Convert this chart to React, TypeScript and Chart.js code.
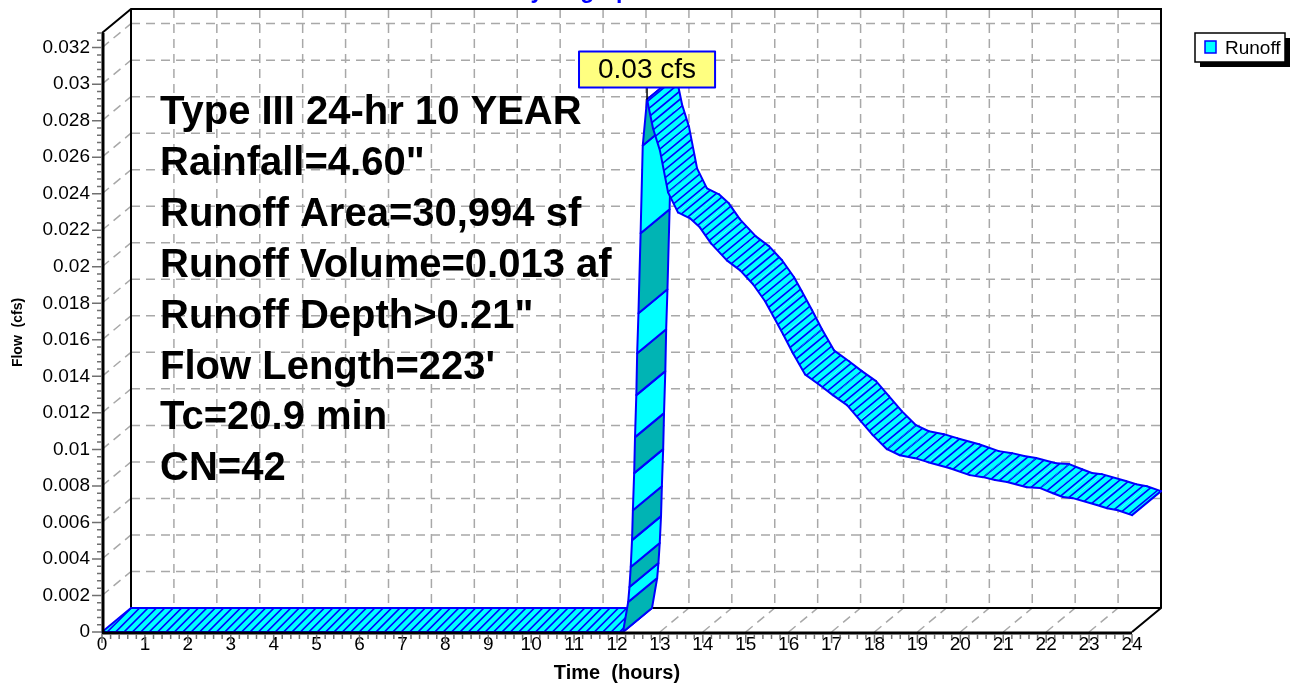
import React, { useEffect, useRef } from 'react';
import { Chart, registerables } from 'chart.js';

Chart.register(...registerables);

const FONT = "'Liberation Sans', Arial, Helvetica, sans-serif";
Chart.defaults.font.family = FONT;
Chart.defaults.color = '#000';

// Runoff hydrograph: time (hours) and flow (cfs)
const hours = [
  0, 12.14, 12.26, 12.29, 12.32, 12.35, 12.37, 12.4, 12.42, 12.45, 12.47, 12.5, 12.55, 12.6, 12.7,
  12.84, 13.0, 13.19, 13.42, 13.7, 13.93, 14.19, 14.56, 14.87, 15.17,
  15.45, 15.63, 15.87, 16.1, 16.38, 16.73, 17.03, 17.36, 17.66, 17.96,
  18.29, 18.59, 18.94, 19.25, 19.76, 20.22, 20.53, 20.81, 21.09, 21.55,
  21.86, 22.16, 22.39, 22.62, 23.18, 23.42, 23.67, 24.0,
];
const runoffCfs = [
  0, 0, 0.00164, 0.00246, 0.00356, 0.00503, 0.00667, 0.0087, 0.01067, 0.01297, 0.01526, 0.01745, 0.02183, 0.02664, 0.02916,
  0.02757, 0.02637, 0.02407, 0.02298, 0.02265, 0.02216, 0.02128, 0.02035, 0.0198, 0.01904,
  0.01811, 0.01734, 0.0163, 0.01526, 0.01411, 0.01351, 0.01297, 0.01242, 0.0116, 0.01078,
  0.01001, 0.00968, 0.00952, 0.0093, 0.00897, 0.00859, 0.00848, 0.00832, 0.00821, 0.00793,
  0.00788, 0.0076, 0.00739, 0.00733, 0.00695, 0.00678, 0.00667, 0.0064,
];

const timeTicks = [0, 1, 2, 3, 4, 5, 6, 7, 8, 9, 10, 11, 12, 13, 14, 15, 16, 17, 18, 19, 20, 21, 22, 23, 24];
const flowTicks = [
  0, 0.002, 0.004, 0.006, 0.008, 0.01, 0.012, 0.014, 0.016, 0.018,
  0.02, 0.022, 0.024, 0.026, 0.028, 0.03, 0.032,
];
const flowMax = 0.0328;

const stormSummary = [
  'Type III 24-hr 10 YEAR',
  'Rainfall=4.60"',
  'Runoff Area=30,994 sf',
  'Runoff Volume=0.013 af',
  'Runoff Depth>0.21"',
  "Flow Length=223'",
  'Tc=20.9 min',
  'CN=42',
];

const chartTitle = 'Hydrograph';
const seriesName = 'Runoff';
const xTitle = 'Time  (hours)';
const yTitle = 'Flow  (cfs)';
const flowUnit = 'cfs';

// depth of the 3D box, in pixels
const DX = 29;
const DY = 24;
const CYAN = '#00FFFF';
const TEAL = '#00B4B4';
const BLUE = '#0000FF';
const GRID = '#A8A8A8';

type P = { x: number; y: number };

// fill a quad with cyan and blue hatch lines running along (ux, uy), spaced `gap` px horizontally
function hatchQuad(ctx: CanvasRenderingContext2D, q: P[], ux: number, uy: number, gap: number) {
  ctx.save();
  ctx.beginPath();
  q.forEach((p, i) => (i ? ctx.lineTo(p.x, p.y) : ctx.moveTo(p.x, p.y)));
  ctx.closePath();
  ctx.fillStyle = CYAN;
  ctx.fill();
  ctx.clip();
  // lines: (-uy) * x + ux * y = c
  const a = -uy;
  const b = ux;
  const step = Math.abs(a) * gap;
  const xs = q.map((p) => p.x);
  const cs = q.map((p) => a * p.x + b * p.y);
  const x0 = Math.min(...xs) - 4;
  const x1 = Math.max(...xs) + 4;
  const c0 = Math.min(...cs);
  const c1 = Math.max(...cs);
  ctx.beginPath();
  for (let c = Math.floor(c0 / step) * step; c <= c1 + step; c += step) {
    ctx.moveTo(x0, (c - a * x0) / b);
    ctx.lineTo(x1, (c - a * x1) / b);
  }
  ctx.strokeStyle = BLUE;
  ctx.lineWidth = 1.6;
  ctx.stroke();
  ctx.restore();
}

const ribbonPlugin = {
  id: 'ribbon3d',
  beforeDatasetsDraw(chart: any) {
    const { ctx, chartArea: a, scales } = chart;
    const x = scales.x;
    const y = scales.y;
    ctx.save();

    // dashed grid on the back wall, floor and left wall
    ctx.setLineDash([9, 6]);
    ctx.strokeStyle = GRID;
    ctx.lineWidth = 1.5;
    ctx.beginPath();
    x.ticks.forEach((t: any) => {
      if (t.value <= x.min || t.value >= x.max) return;
      const px = x.getPixelForValue(t.value);
      ctx.moveTo(px + DX, a.top - DY);
      ctx.lineTo(px + DX, a.bottom - DY);
      ctx.moveTo(px, a.bottom);
      ctx.lineTo(px + DX, a.bottom - DY);
    });
    y.ticks.forEach((t: any) => {
      if (t.value <= y.min) return;
      const py = y.getPixelForValue(t.value);
      ctx.moveTo(a.left + DX, py - DY);
      ctx.lineTo(a.right + DX, py - DY);
      ctx.moveTo(a.left, py);
      ctx.lineTo(a.left + DX, py - DY);
    });
    ctx.stroke();

    // box edges
    ctx.setLineDash([]);
    ctx.strokeStyle = '#000';
    ctx.lineWidth = 2;
    ctx.beginPath();
    ctx.moveTo(a.left, a.top);
    ctx.lineTo(a.left + DX, a.top - DY);
    ctx.lineTo(a.right + DX, a.top - DY);
    ctx.lineTo(a.right + DX, a.bottom - DY);
    ctx.lineTo(a.right, a.bottom);
    ctx.moveTo(a.left + DX, a.top - DY);
    ctx.lineTo(a.left + DX, a.bottom - DY);
    ctx.lineTo(a.right + DX, a.bottom - DY);
    ctx.stroke();

    // storm summary
    ctx.fillStyle = '#000';
    ctx.font = `bold 40px ${FONT}`;
    ctx.textAlign = 'left';
    ctx.textBaseline = 'alphabetic';
    stormSummary.forEach((s, i) => ctx.fillText(s, 160, 124 + i * 50.9));
    ctx.restore();
  },

  afterDatasetsDraw(chart: any) {
    const { ctx, chartArea: a, scales } = chart;
    const x = scales.x;
    const y = scales.y;
    const values: number[] = chart.data.datasets[0].data.map((d: any) => d.y);
    const pts: P[] = chart.getDatasetMeta(0).data.map((e: any) => ({ x: e.x, y: e.y }));
    const n = pts.length;
    const back = (p: P): P => ({ x: p.x + DX, y: p.y - DY });

    const rising = values.slice(0, -1).map((v, i) => values[i + 1] > v);
    const dark: boolean[] = new Array(n - 1).fill(false);
    let run = 0;
    for (let i = n - 2; i >= 0; i--) {
      if (rising[i]) {
        dark[i] = run % 2 === 0;
        run++;
      } else run = 0;
    }

    ctx.save();
    ctx.lineJoin = 'round';
    ctx.lineCap = 'round';
    const line = (p: P, q: P) => {
      ctx.beginPath();
      ctx.moveTo(p.x, p.y);
      ctx.lineTo(q.x, q.y);
      ctx.strokeStyle = BLUE;
      ctx.lineWidth = 2;
      ctx.stroke();
    };

    for (let i = 0; i < n - 1; i++) {
      const f0 = pts[i];
      const f1 = pts[i + 1];
      const b0 = back(f0);
      const b1 = back(f1);
      if (rising[i]) {
        ctx.beginPath();
        ctx.moveTo(f0.x, f0.y);
        ctx.lineTo(f1.x, f1.y);
        ctx.lineTo(b1.x, b1.y);
        ctx.lineTo(b0.x, b0.y);
        ctx.closePath();
        ctx.fillStyle = dark[i] ? TEAL : CYAN;
        ctx.fill();
        ctx.strokeStyle = BLUE;
        ctx.lineWidth = 2;
        ctx.stroke();
      } else {
        const flat = values[i] === values[i + 1];
        if (flat) hatchQuad(ctx, [f0, f1, b1, b0], 1, -1, 8.4);
        else hatchQuad(ctx, [f0, f1, b1, b0], DX, -DY, 10);
        line(f0, f1);
        line(b0, b1);
        if (i === 0 || rising[i - 1]) line(f0, b0);
        if (i === n - 2 || rising[i + 1]) line(f1, b1);
      }
    }

    // front axes
    ctx.strokeStyle = '#000';
    ctx.lineWidth = 3;
    ctx.lineCap = 'butt';
    ctx.beginPath();
    ctx.moveTo(a.left + 1, a.top);
    ctx.lineTo(a.left + 1, a.bottom + 1);
    ctx.lineTo(a.right, a.bottom + 1);
    ctx.stroke();

    // tick marks (major at labels, four minor between)
    ctx.strokeStyle = '#707070';
    ctx.lineWidth = 1.5;
    ctx.beginPath();
    const xt = x.ticks.map((t: any) => t.value);
    for (let i = 0; i < xt.length; i++) {
      const px = x.getPixelForValue(xt[i]);
      ctx.moveTo(px, a.bottom + 2);
      ctx.lineTo(px, a.bottom + 11);
      if (i < xt.length - 1) {
        for (let k = 1; k < 5; k++) {
          const mx = x.getPixelForValue(xt[i] + ((xt[i + 1] - xt[i]) * k) / 5);
          ctx.moveTo(mx, a.bottom + 2);
          ctx.lineTo(mx, a.bottom + 7);
        }
      }
    }
    const yt = y.ticks.map((t: any) => t.value);
    const ystep = (yt[1] - yt[0]) / 5;
    for (let i = 0; i < yt.length; i++) {
      const py = y.getPixelForValue(yt[i]);
      ctx.moveTo(a.left - 10, py);
      ctx.lineTo(a.left, py);
      for (let k = 1; k < 5; k++) {
        const v = yt[i] + ystep * k;
        if (v > y.max + 1e-9) break;
        const my = y.getPixelForValue(v);
        ctx.moveTo(a.left - 5, my);
        ctx.lineTo(a.left, my);
      }
    }
    ctx.stroke();

    // peak flow label
    let pk = 0;
    values.forEach((v, i) => {
      if (v > values[pk]) pk = i;
    });
    const p = pts[pk];
    const text = `${values[pk].toFixed(2)} ${flowUnit}`;
    ctx.font = `28px ${FONT}`;
    const w = ctx.measureText(text).width + 38;
    const h = 36;
    const bottom = p.y - 12;
    ctx.strokeStyle = '#000';
    ctx.lineWidth = 1.5;
    ctx.beginPath();
    ctx.moveTo(p.x, p.y);
    ctx.lineTo(p.x, bottom);
    ctx.stroke();
    ctx.fillStyle = '#FFFF80';
    ctx.fillRect(p.x - w / 2, bottom - h, w, h);
    ctx.strokeStyle = BLUE;
    ctx.lineWidth = 2;
    ctx.strokeRect(p.x - w / 2, bottom - h, w, h);
    ctx.fillStyle = '#000';
    ctx.textAlign = 'center';
    ctx.textBaseline = 'middle';
    ctx.fillText(text, p.x, bottom - h / 2 + 1);
    ctx.restore();
  },

  afterDraw(chart: any) {
    const { ctx } = chart;
    ctx.save();
    // legend with drop shadow
    const lx = 1195;
    const ly = 33;
    const lw = 90;
    const lh = 29;
    ctx.fillStyle = '#000';
    ctx.fillRect(lx + 5, ly + 5, lw, lh);
    ctx.fillStyle = '#fff';
    ctx.fillRect(lx, ly, lw, lh);
    ctx.strokeStyle = '#000';
    ctx.lineWidth = 1.5;
    ctx.strokeRect(lx, ly, lw, lh);
    ctx.fillStyle = CYAN;
    ctx.fillRect(lx + 10, ly + 8, 11, 12);
    ctx.strokeStyle = BLUE;
    ctx.lineWidth = 1.5;
    ctx.strokeRect(lx + 10, ly + 8, 11, 12);
    ctx.fillStyle = '#000';
    ctx.font = `19px ${FONT}`;
    ctx.textAlign = 'left';
    ctx.textBaseline = 'middle';
    ctx.fillText(seriesName, lx + 30, ly + lh / 2 + 1);

    // chart title sits above the top edge
    ctx.fillStyle = BLUE;
    ctx.font = `bold 23px ${FONT}`;
    ctx.textAlign = 'center';
    ctx.textBaseline = 'alphabetic';
    ctx.fillText(chartTitle, 579, -2);
    ctx.restore();
  },
};

export default function App() {
  const ref = useRef<HTMLCanvasElement>(null);

  useEffect(() => {
    document.body.style.margin = '0';
    document.body.style.overflow = 'hidden';
    const chart = new Chart(ref.current as HTMLCanvasElement, {
      type: 'line',
      data: {
        datasets: [
          {
            label: seriesName,
            data: hours.map((h, i) => ({ x: h, y: runoffCfs[i] })),
            showLine: false,
            pointRadius: 0,
            borderWidth: 0,
            borderColor: BLUE,
            backgroundColor: CYAN,
          },
        ],
      },
      options: {
        responsive: false,
        animation: false,
        devicePixelRatio: 1,
        events: [],
        layout: { padding: { left: 0, top: 33, right: 162, bottom: 0 } },
        plugins: {
          legend: { display: false },
          tooltip: { enabled: false },
          title: { display: false },
        },
        scales: {
          x: {
            type: 'linear',
            min: 0,
            max: 24,
            grid: { display: false, drawTicks: false },
            border: { display: false },
            afterBuildTicks: (s: any) => {
              s.ticks = timeTicks.map((v) => ({ value: v }));
            },
            afterFit: (s: any) => {
              s.height = 53;
            },
            ticks: {
              autoSkip: false,
              maxRotation: 0,
              padding: 1,
              color: '#000',
              font: { size: 19 },
              callback: (v: any) => String(v),
            },
            title: {
              display: true,
              text: xTitle,
              color: '#000',
              font: { size: 20, weight: 'bold' },
              padding: { top: 0, bottom: 0 },
            },
          },
          y: {
            type: 'linear',
            min: 0,
            max: flowMax,
            grid: { display: false, drawTicks: false },
            border: { display: false },
            afterBuildTicks: (s: any) => {
              s.ticks = flowTicks.map((v) => ({ value: v }));
            },
            afterFit: (s: any) => {
              s.width = 102;
            },
            ticks: {
              autoSkip: false,
              padding: 12,
              color: '#000',
              font: { size: 19 },
              callback: (v: any) => String(+Number(v).toFixed(4)),
            },
            title: {
              display: true,
              text: yTitle,
              color: '#000',
              font: { size: 14, weight: 'bold' },
              padding: { top: 10, bottom: 0 },
            },
          },
        },
      },
      plugins: [ribbonPlugin],
    } as any);
    return () => chart.destroy();
  }, []);

  return (
    <div style={{ width: 1294, height: 685 }}>
      <canvas ref={ref} width={1294} height={685} style={{ display: 'block' }} />
    </div>
  );
}
